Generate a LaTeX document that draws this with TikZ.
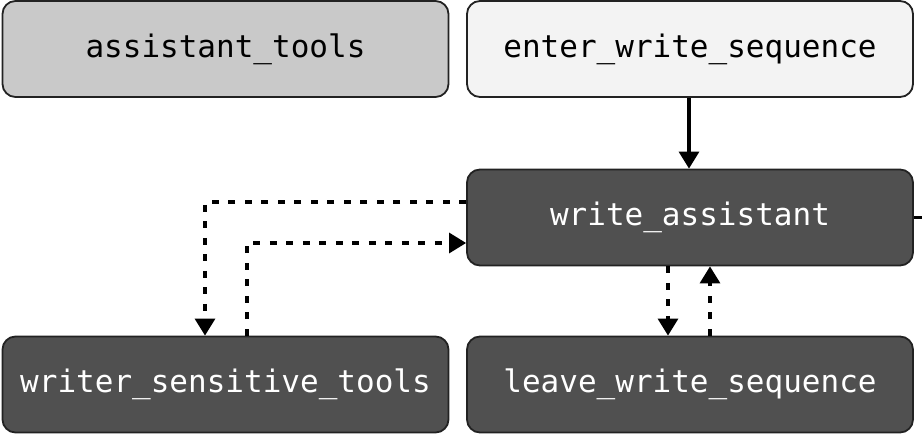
\documentclass[tikz,border=0pt]{standalone}
\usepackage{fontspec}
\setmonofont{DejaVu Sans Mono}
\usetikzlibrary{arrows.meta}
\definecolor{lightbox}{HTML}{C9C9C9}
\definecolor{paleBox}{HTML}{F3F3F3}
\definecolor{darkbox}{HTML}{505050}
\definecolor{edgecol}{HTML}{222222}
\tikzset{
  base/.style={draw=edgecol, line width=1.8pt, rounded corners=13pt, minimum width=446pt, minimum height=96pt, inner sep=0pt, font=\fontsize{31}{34}\selectfont\ttfamily},
  lightnode/.style={base, fill=lightbox, text=black},
  palenode/.style={base, fill=paleBox, text=black},
  darknode/.style={base, fill=darkbox, text=white},
  link/.style={draw=black, line width=3.2pt, -{Triangle[width=20pt,length=17pt]}},
  dlink/.style={link, dash pattern=on 7pt off 9.5pt},
}
\begin{document}
\begin{tikzpicture}[x=1pt,y=-1pt]
\useasboundingbox (0,0) rectangle (922,438);
\node[lightnode] (at) at (225.5,49) {assistant\_tools};
\node[palenode] (ews) at (690,49) {enter\_write\_sequence};
\node[darknode] (wa) at (690,217.5) {write\_assistant};
\node[darknode] (wst) at (225.5,384.5) {writer\_sensitive\_tools};
\node[darknode] (lws) at (690,384.5) {leave\_write\_sequence};
\coordinate (offright) at (922,217.5);
% solid edge
\draw[link] (ews.south -| 689,0) -- (wa.north -| 689,0);
% dashed edges
\draw[dlink] (wa.west |- 0,202) -- (205,202) -- (wst.north -| 205,0);
\draw[dlink] (wst.north -| 247,0) -- (247,243) -- (wa.west |- 0,243);
\draw[dlink] (wa.south -| 668,0) -- (lws.north -| 668,0);
\draw[dlink] (lws.north -| 710,0) -- (wa.south -| 710,0);
\draw[draw=black, line width=3.2pt] (wa.east) -- (offright);
\end{tikzpicture}
\end{document}
